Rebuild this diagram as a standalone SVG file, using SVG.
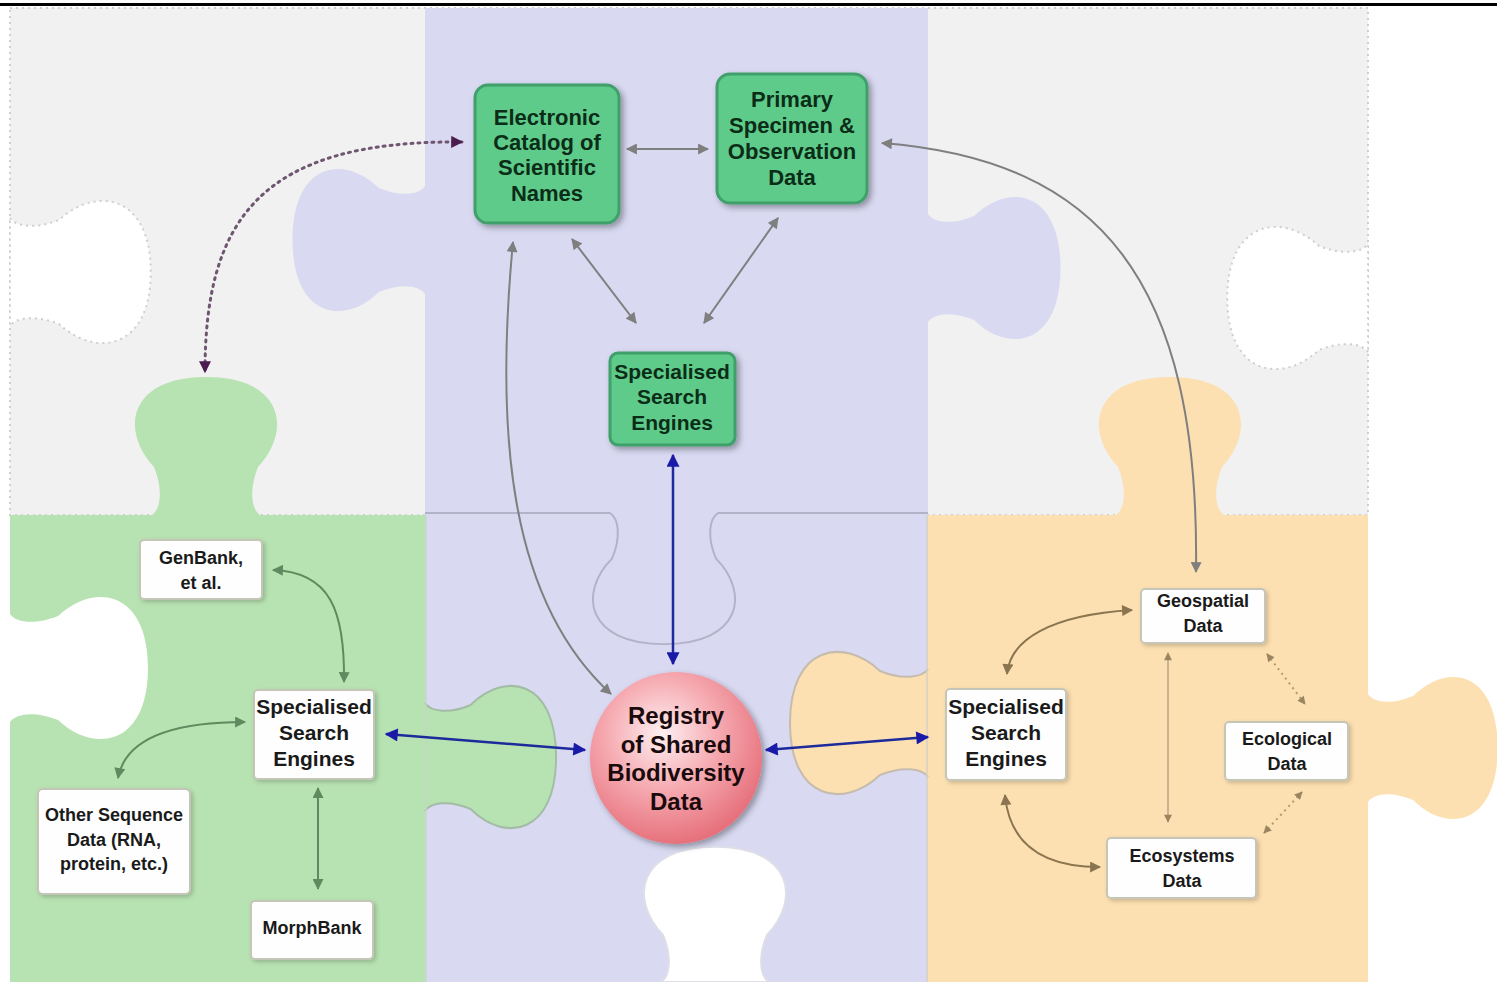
<svg xmlns="http://www.w3.org/2000/svg" xmlns:xlink="http://www.w3.org/1999/xlink" width="1497" height="982" viewBox="0 0 1497 982">
<defs>
<style>
.t{font-family:"Liberation Sans",Arial,sans-serif;font-weight:bold;text-anchor:middle}
.tg{fill:#0b2d17;font-size:22px}
.tw{fill:#1a1a1a;font-size:18px}
.tl{fill:#1a1a1a;font-size:21px}
.gbox{fill:#5fcb8b;stroke:#3f9f6a;stroke-width:3}
.wbox{fill:#fefefe;stroke:#c6c6b8;stroke-width:2}
.c{fill:none;stroke-width:2}
.gray{stroke:#7f7f7f;marker-start:url(#mg);marker-end:url(#mg)}
.blue{stroke:#1c2a9c;stroke-width:2.5;marker-start:url(#mb);marker-end:url(#mb)}
.grn{stroke:#5f8a5f;marker-start:url(#mgr);marker-end:url(#mgr)}
.brn{stroke:#8a7550;marker-start:url(#mbr);marker-end:url(#mbr)}
.brs{stroke:#a8957a;stroke-width:1.2;marker-start:url(#mbs);marker-end:url(#mbs)}
.dot{stroke:#6e5570;stroke-width:3;stroke-dasharray:2 5;stroke-linecap:round;marker-start:url(#mp);marker-end:url(#mp)}
.dotb{stroke:#b09a78;stroke-width:2;stroke-dasharray:2 4;marker-start:url(#mbs);marker-end:url(#mbs)}
</style>
<path id="k" d="M -54 0 C -45 -6 -43 -26 -52 -48 C -86 -84 -78 -138 0 -138 C 78 -138 86 -84 52 -48 C 43 -26 45 -6 54 0 Z"/>
<path id="ko" d="M -54 0 C -45 -6 -43 -26 -52 -48 C -86 -84 -78 -138 0 -138 C 78 -138 86 -84 52 -48 C 43 -26 45 -6 54 0"/>
<filter id="sh" x="-20%" y="-20%" width="150%" height="150%"><feDropShadow dx="3" dy="3" stdDeviation="3" flood-color="#000" flood-opacity="0.35"/></filter>
<filter id="shs" x="-20%" y="-20%" width="150%" height="150%"><feDropShadow dx="2" dy="2" stdDeviation="2" flood-color="#000" flood-opacity="0.2"/></filter>
<radialGradient id="rg" cx="0.42" cy="0.36" r="0.65">
<stop offset="0" stop-color="#fdf0f2"/>
<stop offset="0.5" stop-color="#f6aab1"/>
<stop offset="1" stop-color="#e6707b"/>
</radialGradient>
<marker id="mg" viewBox="0 0 10 10" refX="9" refY="5" markerWidth="12" markerHeight="11" markerUnits="userSpaceOnUse" orient="auto-start-reverse"><path d="M0,0 L10,5 L0,10 z" fill="#7f7f7f"/></marker>
<marker id="mb" viewBox="0 0 10 10" refX="9" refY="5" markerWidth="14" markerHeight="13" markerUnits="userSpaceOnUse" orient="auto-start-reverse"><path d="M0,0 L10,5 L0,10 z" fill="#1a1aa8"/></marker>
<marker id="mgr" viewBox="0 0 10 10" refX="9" refY="5" markerWidth="12" markerHeight="11" markerUnits="userSpaceOnUse" orient="auto-start-reverse"><path d="M0,0 L10,5 L0,10 z" fill="#5f8a5f"/></marker>
<marker id="mbr" viewBox="0 0 10 10" refX="9" refY="5" markerWidth="12" markerHeight="11" markerUnits="userSpaceOnUse" orient="auto-start-reverse"><path d="M0,0 L10,5 L0,10 z" fill="#8a7550"/></marker>
<marker id="mbs" viewBox="0 0 10 10" refX="9" refY="5" markerWidth="9" markerHeight="8" markerUnits="userSpaceOnUse" orient="auto-start-reverse"><path d="M0,0 L10,5 L0,10 z" fill="#9a8560"/></marker>
<marker id="mp" viewBox="0 0 10 10" refX="9" refY="5" markerWidth="13" markerHeight="12" markerUnits="userSpaceOnUse" orient="auto-start-reverse"><path d="M0,0 L10,5 L0,10 z" fill="#4b1d4f"/></marker>
</defs>

<g id="background">
<rect x="0" y="0" width="1497" height="982" fill="#ffffff"/>
<rect x="10" y="8" width="1358" height="507" fill="#f1f1f1" stroke="#cfcfcf" stroke-width="2" stroke-dasharray="2 4"/>
<rect x="425" y="8" width="503" height="974" fill="#d9d9f2"/>
<rect x="10" y="515" width="415" height="467" fill="#b7e2b1"/>
<rect x="928" y="515" width="440" height="467" fill="#fde0b1"/>
<rect x="0" y="3" width="1497" height="3" fill="#000000"/>
<use href="#k" transform="translate(206,515)" fill="#b7e2b1"/>
<use href="#k" transform="translate(1170,515)" fill="#fde0b1"/>
<use href="#k" transform="translate(425,240) rotate(-90) scale(1,0.96)" fill="#d9d9f2"/>
<use href="#k" transform="translate(928,268) rotate(90) scale(1,0.96)" fill="#d9d9f2"/>
<use href="#k" transform="translate(10,272) rotate(90) scale(1,1.02)" fill="#ffffff" stroke="#cfcfcf" stroke-width="2" stroke-dasharray="2 4"/>
<use href="#k" transform="translate(1368,298) rotate(-90) scale(1,1.02)" fill="#ffffff" stroke="#cfcfcf" stroke-width="2" stroke-dasharray="2 4"/>
<use href="#k" transform="translate(10,668) rotate(90) scale(1,1.0)" fill="#ffffff"/>
<use href="#k" transform="translate(1368,748) rotate(90) scale(1,0.94)" fill="#fde0b1"/>
<use href="#k" transform="translate(425,757) rotate(90) scale(1,0.95)" fill="#b7e2b1"/>
<use href="#ko" transform="translate(425,757) rotate(90) scale(1,0.95)" fill="none" stroke="#a3bca6" stroke-width="2"/>
<use href="#k" transform="translate(928,723) rotate(-90)" fill="#fde0b1"/>
<use href="#ko" transform="translate(928,723) rotate(-90)" fill="none" stroke="#c5bcae" stroke-width="2"/>
<path d="M425 513 L610 513 M718 513 L928 513" stroke="#b2b2c8" stroke-width="2" fill="none"/>
<use href="#ko" transform="translate(664,513) rotate(180) scale(1,0.95)" fill="none" stroke="#b2b2c8" stroke-width="2"/>
<use href="#k" transform="translate(715,982) scale(1,0.98)" fill="#ffffff" stroke="#dedee8" stroke-width="2"/>
<line x1="426" y1="515" x2="426" y2="982" stroke="#c4d6c4" stroke-width="1.5"/>
<line x1="927" y1="515" x2="927" y2="982" stroke="#d6d0c4" stroke-width="1.5"/>
</g>

<g id="connectors">
<path class="c gray" d="M 627 149 L 708 149"/>
<path class="c gray" d="M 572 239 L 636 323"/>
<path class="c gray" d="M 778 218 L 704 323"/>
<path class="c gray" d="M 513 242 C 495 430, 508 600, 611 694"/>
<path class="c gray" d="M 882 143 C 1100 160, 1200 280, 1196 572"/>
<path class="c dot" d="M 462 142 C 260 140, 205 220, 205 372"/>
<path class="c blue" d="M 673 455 L 673 664"/>
<path class="c blue" d="M 386 734 L 585 750"/>
<path class="c blue" d="M 766 750 L 928 737"/>
<path class="c grn" d="M 273 570 C 330 572, 345 610, 344 682"/>
<path class="c grn" d="M 245 722 C 170 722, 125 740, 118 778"/>
<path class="c grn" d="M 318 788 L 318 889"/>
<path class="c brn" d="M 1132 610 C 1050 615, 1010 640, 1007 674"/>
<path class="c brn" d="M 1005 795 C 1010 850, 1050 867, 1100 867"/>
<path class="c brs" d="M 1168 653 L 1168 822"/>
<path class="c dotb" d="M 1267 654 L 1305 704"/>
<path class="c dotb" d="M 1302 792 L 1264 833"/>
</g>

<g id="catalog">
<rect class="gbox" x="475" y="85" width="144" height="138" rx="13" filter="url(#sh)"/>
<text class="t tg" x="547" y="124.5">Electronic</text>
<text class="t tg" x="547" y="149.5">Catalog of</text>
<text class="t tg" x="547" y="174.5">Scientific</text>
<text class="t tg" x="547" y="200.5">Names</text>
</g>

<g id="primary">
<rect class="gbox" x="717" y="74" width="150" height="129" rx="13" filter="url(#sh)"/>
<text class="t tg" x="792" y="106.5">Primary</text>
<text class="t tg" x="792" y="132.5">Specimen &amp;</text>
<text class="t tg" x="792" y="158.5">Observation</text>
<text class="t tg" x="792" y="184.5">Data</text>
</g>

<g id="sse-top">
<rect class="gbox" x="610" y="353" width="125" height="92" rx="8" filter="url(#sh)"/>
<text class="t tg" x="672" y="379" style="font-size:21px">Specialised</text>
<text class="t tg" x="672" y="404" style="font-size:21px">Search</text>
<text class="t tg" x="672" y="430" style="font-size:21px">Engines</text>
</g>

<g id="registry">
<circle cx="676" cy="758" r="86" fill="url(#rg)" filter="url(#sh)"/>
<text class="t" x="676" y="724" style="font-size:24px;fill:#1a0a0c">Registry</text>
<text class="t" x="676" y="753" style="font-size:24px;fill:#1a0a0c">of Shared</text>
<text class="t" x="676" y="781" style="font-size:24px;fill:#1a0a0c">Biodiversity</text>
<text class="t" x="676" y="810" style="font-size:24px;fill:#1a0a0c">Data</text>
</g>

<g id="genbank">
<rect class="wbox" x="140" y="540" width="122" height="59" rx="4" filter="url(#shs)"/>
<text class="t tw" x="201" y="564">GenBank,</text>
<text class="t tw" x="201" y="589">et al.</text>
</g>

<g id="sse-left">
<rect class="wbox" x="254" y="690" width="120" height="89" rx="4" filter="url(#shs)"/>
<text class="t tl" x="314" y="714">Specialised</text>
<text class="t tl" x="314" y="740">Search</text>
<text class="t tl" x="314" y="766">Engines</text>
</g>

<g id="other-seq">
<rect class="wbox" x="38" y="789" width="152" height="105" rx="5" filter="url(#shs)"/>
<text class="t tw" x="114" y="821">Other Sequence</text>
<text class="t tw" x="114" y="846">Data (RNA,</text>
<text class="t tw" x="114" y="870">protein, etc.)</text>
</g>

<g id="morphbank">
<rect class="wbox" x="251" y="901" width="122" height="58" rx="4" filter="url(#shs)"/>
<text class="t tw" x="312" y="934">MorphBank</text>
</g>

<g id="geospatial">
<rect class="wbox" x="1141" y="589" width="124" height="54" rx="4" filter="url(#shs)"/>
<text class="t tw" x="1203" y="607">Geospatial</text>
<text class="t tw" x="1203" y="632">Data</text>
</g>

<g id="sse-right">
<rect class="wbox" x="946" y="689" width="120" height="91" rx="4" filter="url(#shs)"/>
<text class="t tl" x="1006" y="714">Specialised</text>
<text class="t tl" x="1006" y="740">Search</text>
<text class="t tl" x="1006" y="766">Engines</text>
</g>

<g id="ecological">
<rect class="wbox" x="1225" y="722" width="123" height="58" rx="4" filter="url(#shs)"/>
<text class="t tw" x="1287" y="745">Ecological</text>
<text class="t tw" x="1287" y="770">Data</text>
</g>

<g id="ecosystems">
<rect class="wbox" x="1107" y="838" width="149" height="60" rx="4" filter="url(#shs)"/>
<text class="t tw" x="1182" y="862">Ecosystems</text>
<text class="t tw" x="1182" y="887">Data</text>
</g>
</svg>
